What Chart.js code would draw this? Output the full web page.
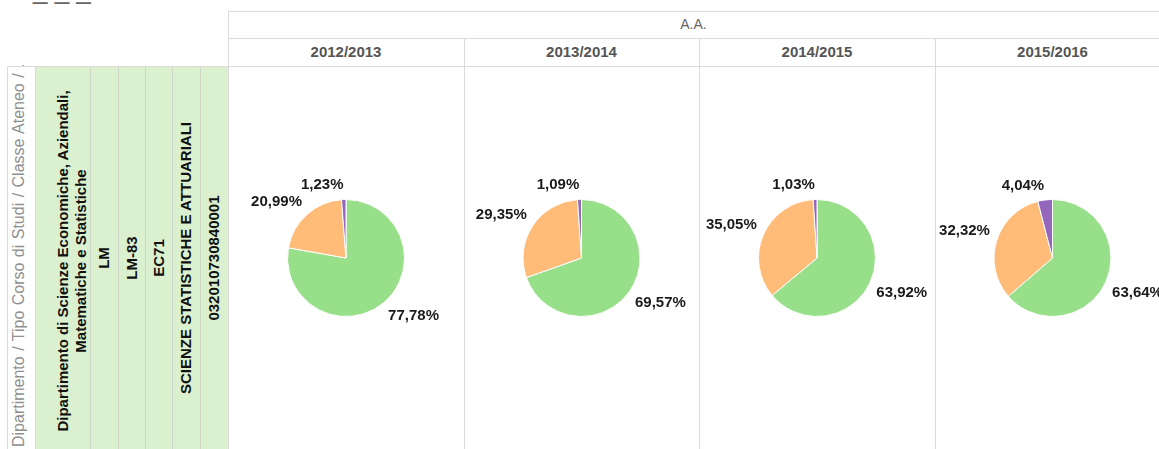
<!DOCTYPE html>
<html>
<head>
<meta charset="utf-8">
<script src="https://cdn.jsdelivr.net/npm/chart.js@4"></script>
<style>
  body { margin: 0; width: 1159px; height: 449px; overflow: hidden; position: relative; background: #fff; font-family: Arial, "Liberation Sans", sans-serif; }
  .ln { position: absolute; background: #dadada; }
  .gl { position: absolute; background: #cdd6c6; }
  .vt { position: absolute; transform: rotate(-90deg); transform-origin: center; white-space: nowrap; text-align: center; }
  .cell { font-weight: bold; font-size: 15px; color: #111; line-height: 18px; }
  .hdr { position: absolute; text-align: center; }
  canvas { position: absolute; }
</style>
</head>
<body>
<div style="position:absolute; left:33px; top:-25px; font-size:26px; color:#666;">_ _ _</div>

<!-- left header panel -->
<div style="position:absolute; left:35px; top:66px; width:193px; height:383px; background:#dbf0cf;"></div>
<div id="grayTitle" class="vt" style="left:-172px; top:246px; width:382px; height:20px; line-height:20px; font-size:16px; color:#8f8f8f; text-align:left; overflow:hidden; white-space:pre; word-spacing:1px;"></div>
<div id="cells"></div>

<div id="lines"></div>
<div id="heads"></div>
<div id="charts"></div>

<script>
// values (percent of each year's total)
const years = ["2012/2013", "2013/2014", "2014/2015", "2015/2016"];
const greenShare = [77.78, 69.57, 63.92, 63.64];
const orangeShare = [20.99, 29.35, 35.05, 32.32];
const purpleShare = [1.23, 1.09, 1.03, 4.04];
const sliceColors = ["#98df8a", "#ffbb78", "#9467bd"];

const rowTitle = "Dipartimento / Tipo Corso di Studi / Classe Ateneo / \u2026";
const rowValues = [
  "Dipartimento di Scienze Economiche, Aziendali,<br>Matematiche e Statistiche",
  "LM",
  "LM-83",
  "EC71",
  "SCIENZE STATISTICHE E ATTUARIALI",
  "032010730840001"
];

// layout
const colLeft = [228, 464, 699, 935];
const colWidth = [236, 235, 236, 235];
const cellCx = [71.5, 104, 131.5, 158.5, 186, 214];
const greenSeps = [90, 118, 145, 172, 200];

document.getElementById("grayTitle").textContent = rowTitle;

let cellsHtml = "";
rowValues.forEach((v, i) => {
  const two = i === 0;
  const len = two ? 370 : 320, th = two ? 36 : 18, cy = two ? 261 : 258;
  cellsHtml += `<div class="vt cell" style="left:${cellCx[i] - len / 2}px; top:${cy - th / 2}px; width:${len}px; height:${th}px;">${v}</div>`;
});
document.getElementById("cells").innerHTML = cellsHtml;

let linesHtml = "";
const hl = (x, y, w) => `<div class="ln" style="left:${x}px; top:${y}px; width:${w}px; height:1px;"></div>`;
const vl = (x, y, h, cls = "ln") => `<div class="${cls}" style="left:${x}px; top:${y}px; width:1px; height:${h}px;"></div>`;
linesHtml += hl(228, 11, 931) + hl(228, 38, 931) + hl(7, 66, 1152);
linesHtml += vl(228, 11, 438) + vl(7, 66, 383) + vl(35, 66, 383);
colLeft.slice(1).forEach((x) => (linesHtml += vl(x, 38, 411)));
greenSeps.forEach((x) => (linesHtml += vl(x, 67, 382, "gl")));
document.getElementById("lines").innerHTML = linesHtml;

let headsHtml = `<div class="hdr" style="left:228px; top:11px; width:931px; height:27px; line-height:27px; font-size:14px; color:#666;">A.A.</div>`;
years.forEach((y, i) => {
  headsHtml += `<div class="hdr" style="left:${colLeft[i]}px; top:38px; width:${colWidth[i]}px; height:28px; line-height:28px; font-size:15px; font-weight:bold; color:#555;">${y}</div>`;
});
document.getElementById("heads").innerHTML = headsHtml;

const fmt = (v) => v.toFixed(2).replace(".", ",") + "%";

const pctLabels = {
  id: "pctLabels",
  afterDatasetsDraw(chart) {
    const ctx = chart.ctx;
    const meta = chart.getDatasetMeta(0);
    const values = chart.data.datasets[0].data;
    ctx.save();
    ctx.font = "bold 15px Arial, 'Liberation Sans'";
    ctx.fillStyle = "#1a1a1a";
    meta.data.forEach((arc, i) => {
      const p = arc.getProps(["x", "y", "startAngle", "endAngle", "outerRadius"], true);
      const mid = (p.startAngle + p.endAngle) / 2;
      const r = p.outerRadius + 7;
      const c = Math.cos(mid), s = Math.sin(mid);
      ctx.textAlign = c >= 0 ? "left" : "right";
      ctx.textBaseline = s < 0 ? "bottom" : "top";
      ctx.fillText(fmt(values[i]), p.x + c * r, p.y + s * r);
    });
    ctx.restore();
  },
};

const holder = document.getElementById("charts");
years.forEach((y, i) => {
  const cv = document.createElement("canvas");
  cv.width = colWidth[i];
  cv.height = 382;
  cv.style.left = colLeft[i] + "px";
  cv.style.top = "67px";
  holder.appendChild(cv);
  new Chart(cv, {
    type: "pie",
    data: {
      labels: ["", "", ""],
      datasets: [
        {
          data: [greenShare[i], orangeShare[i], purpleShare[i]],
          backgroundColor: sliceColors,
          borderColor: "#fff",
          borderWidth: 1,
        },
      ],
    },
    options: {
      responsive: false,
      animation: false,
      devicePixelRatio: 1,
      radius: 58.5,
      plugins: { legend: { display: false }, tooltip: { enabled: false } },
    },
    plugins: [pctLabels],
  });
});
</script>
</body>
</html>
